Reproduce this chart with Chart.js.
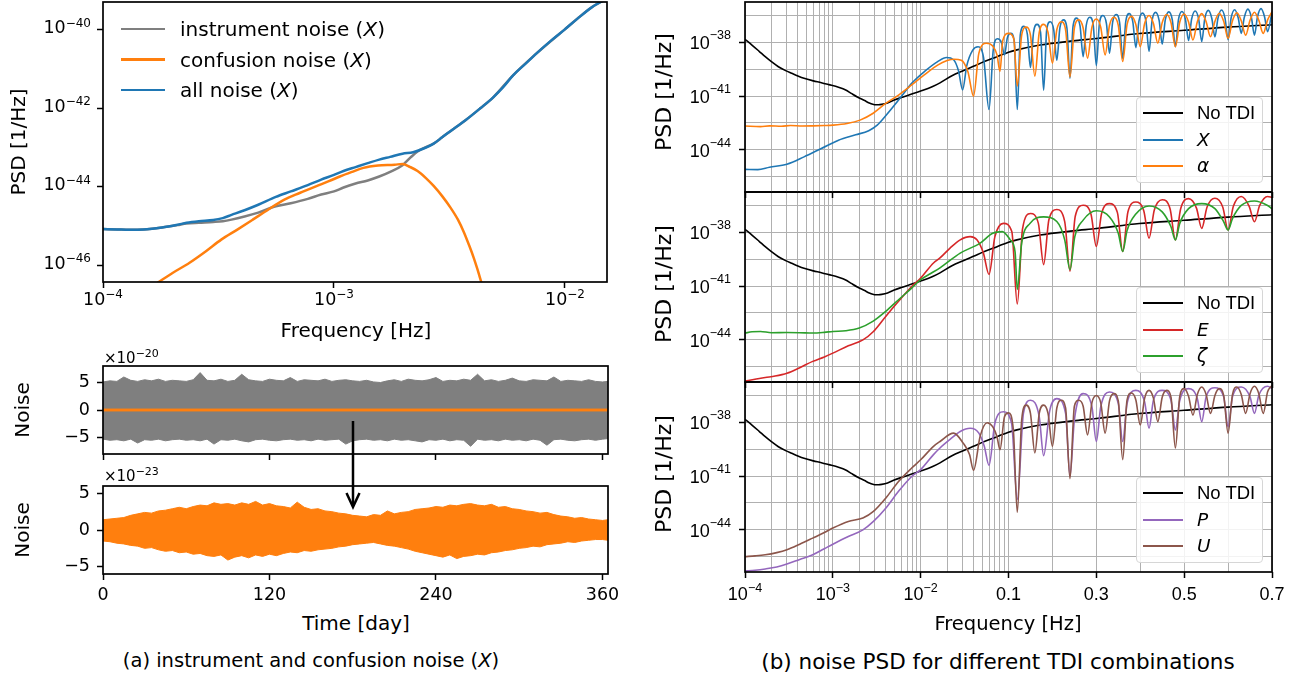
<!DOCTYPE html>
<html>
<head>
<meta charset="utf-8">
<script src="https://cdn.jsdelivr.net/npm/chart.js@4.4.1/dist/chart.umd.min.js"></script>
<style>
  body { margin: 0; background: #fff; font-family: "DejaVu Sans", sans-serif; color: #000; }
  #page { position: relative; width: 1316px; height: 681px; overflow: hidden; background: #fff; }
  canvas { position: absolute; }
  .txt { position: absolute; white-space: nowrap; line-height: 1; transform: translate(-50%, -50%); }
  .vtxt { position: absolute; white-space: nowrap; line-height: 1; transform: translate(-50%, -50%) rotate(-90deg); }
  .mult { position: absolute; white-space: nowrap; line-height: 1; font-size: 15px; }
  .mult sup { font-size: 11px; vertical-align: 6px; }
  .legend { position: absolute; box-sizing: border-box; border: 1.5px solid #d6d6d6; border-radius: 4px; background: rgba(255,255,255,0.85); }
  .item { position: absolute; white-space: nowrap; line-height: 1; transform: translateY(-50%); }
  .swatch { position: absolute; }
  .legend .item { font-family: "Liberation Sans", sans-serif; }
  .legend .item i { font-family: "DejaVu Sans", sans-serif; }
</style>
</head>
<body>
<div id="page">
  <canvas id="leftPsd" width="630" height="345" style="left:0;top:0"></canvas>
  <canvas id="noiseAll" width="630" height="115" style="left:0;top:345px"></canvas>
  <canvas id="noiseConf" width="630" height="150" style="left:0;top:460px"></canvas>
  <canvas id="tdi3" width="681" height="240" style="left:635px;top:380px"></canvas>
  <canvas id="tdi2" width="681" height="200" style="left:635px;top:190px"></canvas>
  <canvas id="tdi1" width="681" height="200" style="left:635px;top:0"></canvas>

  <div class="vtxt" style="left:18px;top:142px;font-size:20px">PSD [1/Hz]</div>
  <div class="txt" style="left:356px;top:330px;font-size:20px">Frequency [Hz]</div>
  <div class="mult" style="left:104px;top:348px">×10<sup>−20</sup></div>
  <div class="mult" style="left:104px;top:466px">×10<sup>−23</sup></div>
  <div class="vtxt" style="left:22px;top:410px;font-size:20px">Noise</div>
  <div class="vtxt" style="left:22px;top:530px;font-size:20px">Noise</div>
  <div class="txt" style="left:356px;top:623px;font-size:20px">Time [day]</div>
  <div class="txt" style="left:311px;top:661px;font-size:19.5px">(a) instrument and confusion noise (<i>X</i>)</div>

  <div class="vtxt" style="left:664px;top:92px;font-size:22px">PSD [1/Hz]</div>
  <div class="vtxt" style="left:664px;top:284px;font-size:22px">PSD [1/Hz]</div>
  <div class="vtxt" style="left:664px;top:474px;font-size:22px">PSD [1/Hz]</div>
  <div class="txt" style="left:1008px;top:624px;font-size:19.5px">Frequency [Hz]</div>
  <div class="txt" style="left:998px;top:662px;font-size:21.5px">(b) noise PSD for different TDI combinations</div>

  <svg style="position:absolute;left:0;top:0" width="1316" height="681">
    <line x1="353" y1="421" x2="353" y2="506" stroke="#000" stroke-width="2.5"/>
    <polyline points="346.5,493 353,507 359.5,493" fill="none" stroke="#000" stroke-width="2.5"/>
  </svg>
</div>

<script>
// ================= (a) PSD OF X : [frequency Hz, log10 PSD] =================
const allNoiseX = [
  [1e-4,-45.08],[1.15e-4,-45.09],[1.3e-4,-45.1],[1.5e-4,-45.09],[1.8e-4,-45.04],[2.1e-4,-44.97],
  [2.3e-4,-44.92],[2.6e-4,-44.88],[3e-4,-44.85],[3.3e-4,-44.8],[3.6e-4,-44.72],[4.1e-4,-44.6],
  [4.7e-4,-44.46],[5.6e-4,-44.26],[6.5e-4,-44.12],[7.7e-4,-43.96],[8.8e-4,-43.82],[1e-3,-43.7],
  [1.1e-3,-43.6],[1.24e-3,-43.5],[1.4e-3,-43.4],[1.57e-3,-43.31],[1.75e-3,-43.24],[1.98e-3,-43.16],
  [2.2e-3,-43.12],[2.46e-3,-43.02],[2.7e-3,-42.9],[2.94e-3,-42.74],[3.3e-3,-42.52],[3.72e-3,-42.3],
  [4.3e-3,-42.0],[4.89e-3,-41.72],[5.4e-3,-41.46],[5.96e-3,-41.16],[6.7e-3,-40.88],[7.53e-3,-40.6],
  [8.6e-3,-40.3],[9.93e-3,-40.0],[1.13e-2,-39.72],[1.31e-2,-39.42],[1.52e-2,-39.2]
];
const instrumentX = [
  [1e-4,-45.08],[1.15e-4,-45.09],[1.3e-4,-45.1],[1.5e-4,-45.09],[1.8e-4,-45.04],[2.1e-4,-44.98],
  [2.3e-4,-44.94],[2.6e-4,-44.92],[3e-4,-44.9],[3.3e-4,-44.88],[3.6e-4,-44.84],[4.1e-4,-44.76],
  [4.7e-4,-44.66],[5.6e-4,-44.5],[6.5e-4,-44.42],[7.7e-4,-44.31],[8.8e-4,-44.2],[1e-3,-44.12],
  [1.1e-3,-44.02],[1.24e-3,-43.92],[1.4e-3,-43.84],[1.57e-3,-43.74],[1.75e-3,-43.62],[1.98e-3,-43.45],
  [2.14e-3,-43.26],[2.3e-3,-43.1],[2.46e-3,-43.01],[2.7e-3,-42.9],[2.94e-3,-42.74],[3.3e-3,-42.52],
  [3.72e-3,-42.3],[4.3e-3,-42.0],[4.89e-3,-41.72],[5.96e-3,-41.16],[7.53e-3,-40.6],[9.93e-3,-40.0],
  [1.31e-2,-39.42],[1.52e-2,-39.2]
];
const confusionX = [
  [1.72e-4,-46.45],[2e-4,-46.2],[2.37e-4,-45.94],[2.8e-4,-45.64],[3.25e-4,-45.35],[3.8e-4,-45.1],
  [4.45e-4,-44.84],[5.2e-4,-44.58],[6.1e-4,-44.33],[7.1e-4,-44.16],[8.35e-4,-43.99],[9.5e-4,-43.86],
  [1.06e-3,-43.74],[1.2e-3,-43.62],[1.34e-3,-43.52],[1.55e-3,-43.46],[1.83e-3,-43.44],[1.98e-3,-43.42],
  [2.14e-3,-43.5],[2.3e-3,-43.6],[2.5e-3,-43.78],[2.7e-3,-43.98],[2.94e-3,-44.24],[3.2e-3,-44.54],
  [3.44e-3,-44.84],[3.65e-3,-45.16],[3.86e-3,-45.52],[4.03e-3,-45.82],[4.18e-3,-46.11],[4.35e-3,-46.45]
];

// ================= (a) TIME SERIES ENVELOPES =================
const noiseDays = [0,5,10,15,20,25,30,35,40,45,50,55,60,65,70,75,80,85,90,95,100,105,110,115,120,125,
  130,135,140,145,150,155,160,165,170,175,180,185,190,195,200,205,210,215,220,225,230,235,240,245,250,
  255,260,265,270,275,280,285,290,295,300,305,310,315,320,325,330,335,340,345,350,355,360,364];
// all noise, x1e-20
const allNoiseUpper = [5.1,5.3,5.2,6.0,5.4,5.2,5.5,5.3,5.6,5.2, 5.4,5.3,5.2,5.5,6.8,5.4,5.3,5.6,5.2,5.4,
  6.5,5.5,5.3,5.2,5.6,5.4,5.3,5.9,5.2,5.5, 5.4,5.3,5.6,5.2,5.4,5.5,5.3,5.2,5.4,5.1,
  5.0,5.3,5.5,5.2,5.6,5.4,5.3,5.5,5.9,5.2, 5.4,5.3,5.6,5.4,6.5,5.3,5.5,5.2,5.4,5.8,
  5.3,5.2,5.5,5.4,5.3,6.0,5.2,5.4,5.3,5.2, 5.5,5.2,5.1,5.2];
const allNoiseLower = [-5.3,-5.5,-5.4,-5.6,-5.3,-6.0,-5.4,-5.5,-5.3,-5.6, -5.4,-5.3,-5.5,-5.4,-5.6,-5.3,-6.2,-5.4,-5.5,-5.3,
  -5.6,-5.8,-5.4,-5.3,-5.5,-5.6,-5.4,-5.3,-5.5,-5.4, -5.6,-5.3,-5.5,-5.4,-5.3,-6.2,-5.6,-5.4,-5.3,-5.5,
  -5.4,-5.6,-5.3,-5.5,-5.4,-5.6,-5.8,-5.4,-5.5,-5.3, -5.6,-5.4,-5.5,-6.6,-5.3,-5.5,-5.4,-5.6,-5.3,-5.5,
  -5.4,-5.6,-5.3,-5.5,-6.4,-5.4,-5.3,-5.5,-5.6,-5.4, -5.3,-5.5,-5.3,-5.2];
// confusion noise, x1e-23
const confUpper = [1.4,1.5,1.6,1.7,2.0,2.2,2.4,2.3,2.6,2.7, 2.9,3.1,2.9,3.2,3.4,3.3,3.7,3.5,3.6,3.4,
  3.7,3.5,3.9,3.4,3.6,3.3,3.2,3.0,3.8,3.1, 2.8,2.9,2.6,2.5,2.3,2.2,2.0,1.9,1.8,2.1,
  2.0,2.6,2.2,2.4,2.5,2.8,2.9,3.0,3.2,3.1, 3.4,3.3,3.5,3.6,3.4,3.3,3.5,3.1,3.2,2.9,
  2.8,2.6,2.5,2.3,2.4,2.1,1.9,1.8,1.6,1.7, 1.5,1.4,1.3,1.4];
const confLower = [-1.5,-1.6,-1.8,-1.9,-2.1,-2.2,-2.5,-2.4,-2.7,-2.9, -2.8,-3.1,-3.0,-3.3,-3.2,-3.5,-3.6,-3.4,-4.1,-3.7,
  -3.5,-3.8,-3.4,-3.6,-3.3,-3.5,-3.2,-3.0,-3.1,-2.8, -2.9,-2.7,-2.6,-2.5,-2.3,-2.2,-2.0,-1.9,-1.8,-1.7,
  -1.9,-2.1,-2.2,-2.4,-2.6,-2.9,-3.1,-3.3,-3.5,-3.7, -3.4,-3.9,-3.6,-3.5,-3.3,-3.4,-3.1,-3.0,-2.8,-2.7,
  -2.5,-2.4,-2.2,-2.3,-2.0,-1.9,-1.8,-1.6,-1.7,-1.5, -1.4,-1.3,-1.3,-1.4];

// ================= (b) TDI PSD : [frequency Hz, log10 PSD] =================
const noTdi = [
  [1e-4,-37.83],[1.2e-4,-38.15],[1.45e-4,-38.5],[1.7e-4,-38.8],[2e-4,-39.08],[2.4e-4,-39.36],
  [2.9e-4,-39.58],[3.4e-4,-39.73],[4e-4,-39.88],[4.7e-4,-40.01],[6e-4,-40.15],[7.4e-4,-40.25],
  [9e-4,-40.36],[1.16e-3,-40.51],[1.4e-3,-40.66],[1.62e-3,-40.85],[1.9e-3,-41.05],[2.3e-3,-41.25],
  [2.6e-3,-41.38],[2.85e-3,-41.45],[3.1e-3,-41.48],[3.3e-3,-41.48],[3.6e-3,-41.46],[4.2e-3,-41.38],
  [5e-3,-41.22],[6e-3,-41.08],[7.1e-3,-40.96],[1e-2,-40.72],[1.35e-2,-40.48],[1.66e-2,-40.26],
  [2.3e-2,-39.85],[3e-2,-39.6],[3.98e-2,-39.34],[5.4e-2,-39.06],[7.4e-2,-38.8],[0.1,-38.55],
  [0.119,-38.42],[0.172,-38.15],[0.247,-37.92],[0.3,-37.79],[0.398,-37.51],[0.5,-37.33],[0.6,-37.15],[0.7,-37.02]
];
const tdiX = [
  [1e-4,-45.09],[1.4e-4,-45.1],[1.9e-4,-44.97],[3e-4,-44.8],[4.7e-4,-44.39],[7.4e-4,-43.92],[1.16e-3,-43.46],
  [1.82e-3,-43.16],[2.56e-3,-42.93],[3.2e-3,-42.62],[4.2e-3,-41.97],[5.6e-3,-41.22],[7.9e-3,-40.29],[1.1e-2,-39.64],
  [1.56e-2,-39.08],[1.97e-2,-38.85],[2.37e-2,-38.97],[2.7e-2,-39.6],[3e-2,-40.65],[3.35e-2,-39.3],[3.9e-2,-38.45],
  [4.5e-2,-38.25],[5.2e-2,-38.85],[6e-2,-41.75],[6.7e-2,-38.45],[7.5e-2,-37.8],[8.3e-2,-38.0],[9e-2,-38.7],
  [9.7e-2,-37.75],[0.105,-37.5],[0.113,-37.9],
  [0.12,-41.75],[0.127,-37.55],[0.135,-37.1],[0.143,-37.55],[0.15,-39.4],[0.157,-37.45],[0.165,-37.0],[0.173,-37.45],
  [0.18,-40.67],[0.187,-37.3],[0.195,-36.85],[0.203,-37.3],[0.21,-39.0],[0.217,-37.2],[0.225,-36.75],[0.233,-37.2],
  [0.24,-40.0],[0.247,-37.1],[0.255,-36.65],[0.263,-37.1],[0.27,-38.8],[0.277,-37.05],[0.285,-36.6],[0.293,-37.05],
  [0.3,-39.3],[0.307,-36.95],[0.315,-36.5],[0.323,-36.95],[0.33,-38.6],[0.337,-36.9],[0.345,-36.45],[0.353,-36.9],
  [0.36,-38.9],[0.367,-36.85],[0.375,-36.4],[0.383,-36.85],[0.39,-38.3],[0.397,-36.82],[0.405,-36.37],[0.413,-36.82],
  [0.42,-38.5],[0.427,-36.78],[0.435,-36.33],[0.443,-36.78],[0.45,-38.1],[0.457,-36.75],[0.465,-36.3],[0.473,-36.75],
  [0.48,-38.25],[0.487,-36.73],[0.495,-36.28],[0.503,-36.73],[0.51,-37.9],[0.517,-36.7],[0.525,-36.25],[0.533,-36.7],
  [0.54,-37.95],[0.547,-36.67],[0.555,-36.22],[0.563,-36.67],[0.57,-37.7],[0.577,-36.65],[0.585,-36.2],[0.593,-36.65],
  [0.6,-37.85],[0.607,-36.63],[0.615,-36.18],[0.623,-36.63],[0.63,-37.5],[0.637,-36.6],[0.645,-36.15],[0.653,-36.6],
  [0.66,-37.6],[0.667,-36.57],[0.675,-36.12],[0.683,-36.57],[0.69,-37.4],[0.7,-36.3]
];
const tdiAlpha = [
  [1e-4,-42.67],[1.5e-4,-42.7],[1.9e-4,-42.66],[2.6e-4,-42.68],[3.3e-4,-42.64],[4.5e-4,-42.67],[5.9e-4,-42.66],
  [8e-4,-42.64],[1e-3,-42.62],[1.45e-3,-42.53],[2.04e-3,-42.34],[2.85e-3,-41.97],[4e-3,-41.41],[5.6e-3,-40.94],
  [7.9e-3,-40.38],[1.1e-2,-39.82],[1.56e-2,-39.27],[2e-2,-39.02],[2.4e-2,-38.94],[2.9e-2,-39.0],[3.45e-2,-39.64],
  [4e-2,-41.0],[4.6e-2,-38.6],[5.6e-2,-38.05],[6.6e-2,-38.2],[7.4e-2,-38.7],[8e-2,-39.62],[8.6e-2,-37.9],
  [0.1,-37.5],[0.112,-37.8],
  [0.12,-40.44],[0.13,-37.6],[0.14,-37.15],[0.15,-37.6],[0.16,-39.89],[0.17,-37.45],[0.18,-37.0],[0.19,-37.45],
  [0.2,-39.16],[0.21,-37.3],[0.22,-36.85],[0.23,-37.3],[0.24,-39.93],[0.25,-37.2],[0.26,-36.75],[0.27,-37.2],
  [0.28,-38.88],[0.29,-37.15],[0.3,-36.7],[0.31,-37.15],[0.32,-38.7],[0.33,-37.05],[0.34,-36.6],[0.35,-37.05],
  [0.36,-39.07],[0.37,-37.0],[0.38,-36.55],[0.39,-37.0],[0.4,-38.24],[0.41,-36.95],[0.42,-36.5],[0.43,-36.95],
  [0.44,-38.05],[0.45,-36.9],[0.46,-36.45],[0.47,-36.9],[0.48,-38.24],[0.49,-36.87],[0.5,-36.42],[0.51,-36.87],
  [0.52,-37.87],[0.53,-36.85],[0.54,-36.4],[0.55,-36.85],[0.56,-37.69],[0.57,-36.83],[0.58,-36.38],[0.59,-36.83],
  [0.6,-37.78],[0.61,-36.8],[0.62,-36.35],[0.63,-36.8],[0.64,-37.6],[0.65,-36.77],[0.66,-36.32],[0.67,-36.77],
  [0.68,-37.5],[0.69,-36.75],[0.7,-36.3]
];
const tdiE = [
  [1e-4,-46.3],[1.3e-4,-46.2],[1.7e-4,-46.1],[2.2e-4,-46.02],[3e-4,-45.86],[4.2e-4,-45.55],[5.9e-4,-45.2],
  [8e-4,-44.95],[1e-3,-44.74],[1.5e-3,-44.33],[2.2e-3,-44.0],[2.9e-3,-43.53],[4e-3,-42.69],[5.6e-3,-41.85],
  [7.9e-3,-41.02],[1e-2,-40.55],[1.4e-2,-39.71],[1.66e-2,-39.43],[2.16e-2,-38.88],[2.82e-2,-38.42],[3.66e-2,-38.24],
  [4.37e-2,-38.42],[5.18e-2,-39.16],[6e-2,-40.35],[7e-2,-38.24],[8.75e-2,-37.5],[0.1075,-37.96],
  [0.12,-42.0],[0.132,-37.8],[0.15,-36.95],[0.168,-37.5],[0.18,-39.8],[0.192,-37.3],[0.21,-36.73],[0.228,-37.4],
  [0.24,-40.17],[0.252,-37.1],[0.27,-36.49],[0.288,-37.0],[0.3,-38.79],[0.312,-36.95],[0.33,-36.4],[0.348,-36.9],
  [0.36,-39.07],[0.372,-36.85],[0.39,-36.31],[0.408,-36.8],[0.42,-38.33],[0.432,-36.75],[0.45,-36.18],[0.468,-36.7],
  [0.48,-38.42],[0.492,-36.68],[0.51,-36.12],[0.528,-36.65],[0.54,-37.78],[0.552,-36.6],[0.57,-36.1],[0.588,-36.6],
  [0.6,-37.87],[0.612,-36.55],[0.63,-36.0],[0.648,-36.55],[0.66,-37.41],[0.672,-36.5],[0.69,-36.0],[0.7,-36.05]
];
const tdiZeta = [
  [1e-4,-43.62],[1.2e-4,-43.55],[1.5e-4,-43.53],[2e-4,-43.6],[3e-4,-43.59],[4.2e-4,-43.6],[5.9e-4,-43.62],
  [8e-4,-43.58],[1e-3,-43.53],[1.4e-3,-43.49],[2e-3,-43.34],[2.85e-3,-42.97],[4e-3,-42.41],[5.6e-3,-41.76],
  [7.9e-3,-41.11],[1e-2,-40.64],[1.3e-2,-40.3],[1.66e-2,-39.98],[2.82e-2,-39.16],[4.76e-2,-38.6],[6.6e-2,-38.05],
  [8.5e-2,-37.96],[0.104,-38.42],[0.115,-39.1],[0.12,-41.18],[0.13,-38.6],[0.149,-37.5],[0.18,-37.14],[0.21,-37.4],
  [0.228,-38.42],[0.24,-40.08],[0.251,-38.24],[0.27,-37.32],[0.3,-36.8],[0.33,-37.14],[0.35,-38.05],[0.36,-39.07],
  [0.37,-37.9],[0.39,-36.98],[0.42,-36.53],[0.45,-36.86],[0.47,-37.69],[0.48,-38.42],[0.49,-37.5],[0.51,-36.68],
  [0.54,-36.4],[0.57,-36.68],[0.59,-37.41],[0.6,-37.87],[0.61,-37.23],[0.63,-36.5],[0.66,-36.25],[0.69,-36.5],[0.7,-36.68]
];
const tdiP = [
  [1e-4,-46.29],[1.3e-4,-46.25],[1.7e-4,-46.18],[2.3e-4,-46.07],[3e-4,-45.91],[4.2e-4,-45.65],[5.9e-4,-45.39],
  [8e-4,-45.05],[1e-3,-44.8],[1.5e-3,-44.37],[2.2e-3,-44.0],[2.9e-3,-43.53],[4e-3,-42.79],[5.6e-3,-41.85],
  [7.9e-3,-41.02],[1e-2,-40.64],[1.4e-2,-39.8],[1.66e-2,-39.43],[2.16e-2,-38.95],[2.82e-2,-38.51],[3.66e-2,-38.33],
  [4.6e-2,-38.6],[5.3e-2,-39.34],[6e-2,-40.4],[7e-2,-38.05],[8.75e-2,-37.41],[0.107,-38.05],[0.12,-42.3],
  [0.134,-37.5],[0.15,-36.77],[0.17,-37.69],[0.18,-39.86],[0.194,-37.33],[0.21,-36.68],[0.23,-37.5],[0.24,-41.0],
  [0.25,-37.87],[0.27,-36.4],[0.29,-37.14],[0.3,-39.07],[0.31,-37.14],[0.33,-36.31],[0.35,-36.95],[0.36,-39.07],
  [0.37,-36.95],[0.39,-36.22],[0.41,-36.86],[0.42,-38.33],[0.43,-36.77],[0.45,-36.22],[0.47,-36.77],[0.48,-38.42],
  [0.49,-36.77],[0.51,-36.12],[0.53,-36.68],[0.54,-37.96],[0.55,-36.58],[0.57,-36.07],[0.59,-36.58],[0.6,-38.24],
  [0.61,-36.58],[0.63,-36.03],[0.65,-36.58],[0.66,-37.5],[0.67,-36.49],[0.69,-35.99],[0.7,-36.12]
];
const tdiU = [
  [1e-4,-45.49],[1.3e-4,-45.45],[1.7e-4,-45.39],[2.3e-4,-45.27],[3e-4,-45.11],[4.2e-4,-44.8],[5.9e-4,-44.46],
  [8e-4,-44.15],[1e-3,-43.9],[1.5e-3,-43.53],[2.2e-3,-43.34],[2.9e-3,-42.97],[4e-3,-42.23],[5.6e-3,-41.3],
  [7.9e-3,-40.55],[1e-2,-40.09],[1.4e-2,-39.34],[1.66e-2,-39.07],[2.37e-2,-38.6],[3.05e-2,-39.16],[3.6e-2,-39.8],
  [4e-2,-40.67],[4.76e-2,-38.77],[5.7e-2,-38.02],[6.6e-2,-38.24],[7.4e-2,-38.8],[8e-2,-39.53],[9e-2,-37.69],
  [0.1,-37.47],[0.111,-38.42],[0.12,-43.02],[0.13,-37.87],[0.14,-37.04],[0.15,-37.5],[0.16,-39.71],[0.17,-37.5],
  [0.18,-37.04],[0.19,-37.5],[0.2,-39.34],[0.21,-37.2],[0.22,-36.77],[0.23,-37.2],[0.24,-41.14],[0.25,-37.1],
  [0.26,-36.77],[0.27,-37.1],[0.28,-38.7],[0.29,-36.9],[0.3,-36.5],[0.31,-36.9],[0.32,-38.6],[0.33,-36.8],
  [0.34,-36.4],[0.35,-36.8],[0.36,-40.08],[0.37,-36.75],[0.38,-36.36],[0.39,-36.75],[0.4,-38.15],[0.41,-36.65],
  [0.42,-36.22],[0.43,-36.65],[0.44,-37.96],[0.45,-36.6],[0.46,-36.22],[0.47,-36.6],[0.48,-39.43],[0.49,-36.55],
  [0.5,-36.12],[0.51,-36.55],[0.52,-37.6],[0.53,-36.45],[0.54,-36.03],[0.55,-36.45],[0.56,-37.5],[0.57,-36.5],
  [0.58,-36.12],[0.59,-36.5],[0.6,-38.6],[0.61,-36.45],[0.62,-36.03],[0.63,-36.45],[0.64,-37.5],[0.65,-36.4],
  [0.66,-35.99],[0.67,-36.4],[0.68,-37.5],[0.69,-36.3],[0.7,-35.94]
];

// ================= TICKS (base^exponent) =================
const leftFreqTicks = [1e-4, 1e-3, 1e-2];
const leftFreqLabels = ["10^−4", "10^−3", "10^−2"];
const leftPsdTicks = [-46, -44, -42, -40];
const leftPsdLabels = ["10^−46", "10^−44", "10^−42", "10^−40"];
const dayTicks = [0, 120, 240, 360];
const dayLabels = ["0", "120", "240", "360"];
const noiseTicks = [-5, 0, 5];
const noiseLabels = ["−5", "0", "5"];
const tdiFreqTicks = [1e-4, 1e-3, 1e-2, 0.1, 0.3, 0.5, 0.7];
const tdiFreqLabels = ["10^−4", "10^−3", "10^−2", "0.1", "0.3", "0.5", "0.7"];
const tdiGridFreqs = [1e-4,2e-4,3e-4,4e-4,5e-4,6e-4,7e-4,8e-4,9e-4, 1e-3,2e-3,3e-3,4e-3,5e-3,6e-3,7e-3,8e-3,9e-3,
  1e-2,2e-2,3e-2,4e-2,5e-2,6e-2,7e-2,8e-2,9e-2, 0.1,0.2,0.3,0.4,0.5,0.6,0.7];
const tdiPsdGrid = [-45.5, -44, -42.5, -41, -39.5, -38, -36.5];
const tdiPsdTicks = [-44, -41, -38];
const tdiPsdLabels = ["10^−44", "10^−41", "10^−38"];

// ================= HELPERS =================
Chart.defaults.font.family = "'DejaVu Sans', sans-serif";
Chart.defaults.color = "#000";
const GRID = "#b0b0b0";
const DEJAVU = "'DejaVu Sans', sans-serif";
const LIBERATION = "'Liberation Sans', sans-serif";

// log below 0.1 Hz, linear above (the figure's frequency axis)
function freqToAxis(f) {
  return f <= 0.1 ? 2 * (Math.log10(f) + 4) : 6 + (f - 0.1) / 0.1;
}
const setTicks = vals => s => { s.ticks = vals.map(v => ({ value: v })); };
const fixWidth = w => s => { s.width = w; s.paddingTop = 0; s.paddingBottom = 0; };
const fixHeight = h => s => { s.height = h; s.paddingLeft = 0; s.paddingRight = 0; };

const framePlugin = {
  id: "frame",
  afterDraw(chart) {
    const { ctx, chartArea: a } = chart;
    ctx.save();
    ctx.strokeStyle = "#000";
    ctx.lineWidth = 1.7;
    ctx.strokeRect(a.left, a.top, a.right - a.left, a.bottom - a.top);
    ctx.restore();
  }
};

// tick labels with a raised exponent, placed through the chart's scales
function tickLabels(specs) {
  return {
    id: "tickLabels",
    afterDraw(chart) {
      const { ctx, chartArea: a } = chart;
      ctx.save();
      ctx.fillStyle = "#000";
      ctx.textBaseline = "middle";
      ctx.textAlign = "left";
      specs.forEach(s => {
        const scale = chart.scales[s.axis];
        s.values.forEach((v, i) => {
          const [base, exp] = s.labels[i].split("^");
          const p = scale.getPixelForValue(s.map ? s.map(v) : v);
          ctx.font = `${s.size}px ${s.family}`;
          const wb = ctx.measureText(base).width;
          let we = 0;
          if (exp) { ctx.font = `${s.expSize}px ${s.family}`; we = ctx.measureText(exp).width; }
          let x0, y0;
          if (s.axis === "y") { x0 = a.left - s.gap - wb - we; y0 = p + s.dy; }
          else { x0 = p - (wb + we) / 2; y0 = a.bottom + s.gap; }
          ctx.font = `${s.size}px ${s.family}`;
          ctx.fillText(base, x0, y0);
          if (exp) {
            ctx.font = `${s.expSize}px ${s.family}`;
            ctx.fillText(exp, x0 + wb, y0 + s.expDy);
          }
        });
      });
      ctx.restore();
    }
  };
}

function curve(points, color, width, mapX) {
  return {
    data: points.map(p => ({ x: mapX ? mapX(p[0]) : p[0], y: p[1] })),
    borderColor: color, borderWidth: width, pointRadius: 0, fill: false,
    cubicInterpolationMode: "monotone"
  };
}
function band(days, vals, color, width, fill) {
  return {
    data: days.map((d, i) => ({ x: d, y: vals[i] })),
    borderColor: color, backgroundColor: color, borderWidth: width, pointRadius: 0,
    fill: fill, tension: 0
  };
}
function axis(type, min, max, ticks, fit, tickColor, gridColor) {
  return {
    type, min, max,
    afterBuildTicks: setTicks(ticks), afterFit: fit,
    border: { display: false },
    grid: gridColor
      ? { color: gridColor, lineWidth: 1, tickLength: 6, tickWidth: 1.5, tickColor }
      : { drawOnChartArea: false, tickLength: 6, tickWidth: 1.5, tickColor },
    ticks: { display: false, autoSkip: false }
  };
}
function baseOptions(padding, scales) {
  return {
    responsive: false, animation: false, events: [],
    layout: { padding },
    plugins: { legend: { display: false }, tooltip: { enabled: false } },
    scales
  };
}

// ================= (a) PSD CHART =================
new Chart(document.getElementById("leftPsd"), {
  type: "line",
  data: { datasets: [
    curve(allNoiseX, "#1f77b4", 2.5),
    curve(confusionX, "#ff7f0e", 2.5),
    curve(instrumentX, "#7f7f7f", 2.5)
  ] },
  options: baseOptions({ top: 2, right: 23, left: 0, bottom: 0 }, {
    x: axis("logarithmic", 1e-4, 0.0152, leftFreqTicks, fixHeight(63), "#000"),
    y: axis("linear", -46.43, -39.29, leftPsdTicks, fixWidth(103), "#000")
  }),
  plugins: [framePlugin, tickLabels([
    { axis: "x", values: leftFreqTicks, labels: leftFreqLabels, size: 17.5, expSize: 12, family: DEJAVU, gap: 18, expDy: -5 },
    { axis: "y", values: leftPsdTicks, labels: leftPsdLabels, size: 17.5, expSize: 12, family: DEJAVU, gap: 12, dy: -1, expDy: -5 }
  ])]
});

// ================= (a) TIME SERIES =================
function noiseChart(id, datasets, yMax, padTop, xHeight, showX) {
  const labels = [{ axis: "y", values: noiseTicks, labels: noiseLabels, size: 17.5, family: DEJAVU, gap: 13, dy: 0 }];
  if (showX) labels.push({ axis: "x", values: dayTicks, labels: dayLabels, size: 17.5, family: DEJAVU, gap: 21 });
  new Chart(document.getElementById(id), {
    type: "line",
    data: { datasets },
    options: baseOptions({ top: padTop, right: 22, left: 0, bottom: 0 }, {
      x: axis("linear", 0, 364, dayTicks, fixHeight(xHeight), "#000"),
      y: axis("linear", -yMax, yMax, noiseTicks, fixWidth(103), "#000")
    }),
    plugins: [framePlugin, tickLabels(labels)]
  });
}
// confusion noise expressed in units of 1e-20 for the upper panel
const confUpperTop = confUpper.map(v => v * 1e-3);
const confLowerTop = confLower.map(v => v * 1e-3);
noiseChart("noiseAll", [
  band(noiseDays, confUpperTop, "#ff7f0e", 2.5, "+1"),
  band(noiseDays, confLowerTop, "#ff7f0e", 2.5, false),
  band(noiseDays, allNoiseUpper, "#7f7f7f", 1, "+1"),
  band(noiseDays, allNoiseLower, "#7f7f7f", 1, false)
], 8, 21, 6, false);
noiseChart("noiseConf", [
  band(noiseDays, confUpper, "#ff7f0e", 1, "+1"),
  band(noiseDays, confLower, "#ff7f0e", 1, false)
], 6, 26, 36, true);

// ================= (b) TDI PANELS =================
const isFreqTick = u => tdiFreqTicks.some(f => Math.abs(freqToAxis(f) - u) < 1e-6);
const isPsdTick = v => tdiPsdTicks.some(t => Math.abs(t - v) < 1e-6);
const freqTickColor = c => (c.tick && isFreqTick(c.tick.value)) ? "#000" : "rgba(0,0,0,0)";
const psdTickColor = c => (c.tick && isPsdTick(c.tick.value)) ? "#000" : "rgba(0,0,0,0)";

function tdiChart(id, series, xHeight, showX) {
  const labels = [{ axis: "y", values: tdiPsdTicks, labels: tdiPsdLabels, size: 18, expSize: 12.5, family: LIBERATION, gap: 14, dy: 2, expDy: -8.5 }];
  if (showX) labels.push({ axis: "x", values: tdiFreqTicks, labels: tdiFreqLabels, map: freqToAxis, size: 18, expSize: 12.5, family: LIBERATION, gap: 23, expDy: -6.5 });
  new Chart(document.getElementById(id), {
    type: "line",
    data: { datasets: series.map(s => curve(s[0], s[1], 1.6, freqToAxis)) },
    options: baseOptions({ top: 2, right: 44, left: 0, bottom: 0 }, {
      x: axis("linear", 0, 12, tdiGridFreqs.map(freqToAxis), fixHeight(xHeight), freqTickColor, GRID),
      y: axis("linear", -46.35, -35.75, tdiPsdGrid, fixWidth(110), psdTickColor, GRID)
    }),
    plugins: [framePlugin, tickLabels(labels)]
  });
}
tdiChart("tdi3", [[tdiU, "#8c564b"], [tdiP, "#9467bd"], [noTdi, "#000000"]], 48, true);
tdiChart("tdi2", [[tdiZeta, "#2ca02c"], [tdiE, "#d62728"], [noTdi, "#000000"]], 8, false);
tdiChart("tdi1", [[tdiAlpha, "#ff7f0e"], [tdiX, "#1f77b4"], [noTdi, "#000000"]], 8, false);

// ================= LEGENDS =================
const page = document.getElementById("page");
function addLegend(box, items, lineW, font, gap, first, sw) {
  let host = page;
  if (box) {
    host = document.createElement("div");
    host.className = "legend";
    Object.assign(host.style, { left: box[0] + "px", top: box[1] + "px", width: box[2] + "px", height: box[3] + "px" });
    page.appendChild(host);
  }
  items.forEach((it, i) => {
    const y = first + i * gap;
    const line = document.createElement("div");
    line.className = "swatch";
    Object.assign(line.style, { left: sw[0] + "px", width: (sw[1] - sw[0]) + "px", top: (y - lineW / 2) + "px", height: lineW + "px", background: it[1] });
    host.appendChild(line);
    const t = document.createElement("div");
    t.className = "item";
    t.style.left = sw[2] + "px";
    t.style.top = y + "px";
    t.style.fontSize = font + "px";
    t.innerHTML = it[0];
    host.appendChild(t);
  });
}
addLegend(null, [
  ["instrument noise (<i>X</i>)", "#7f7f7f"],
  ["confusion noise (<i>X</i>)", "#ff7f0e"],
  ["all noise (<i>X</i>)", "#1f77b4"]
], 2.5, 20, 30.5, 29, [121, 165, 180]);
addLegend([1136, 97, 127, 86], [["No TDI", "#000"], ["<i>X</i>", "#1f77b4"], ["<i>α</i>", "#ff7f0e"]], 2, 18.5, 26.5, 15, [6, 46, 60]);
addLegend([1136, 287, 127, 86], [["No TDI", "#000"], ["<i>E</i>", "#d62728"], ["<i>ζ</i>", "#2ca02c"]], 2, 18.5, 26.5, 15, [6, 46, 60]);
addLegend([1136, 477, 127, 86], [["No TDI", "#000"], ["<i>P</i>", "#9467bd"], ["<i>U</i>", "#8c564b"]], 2, 18.5, 26.5, 15, [6, 46, 60]);
</script>
</body>
</html>
